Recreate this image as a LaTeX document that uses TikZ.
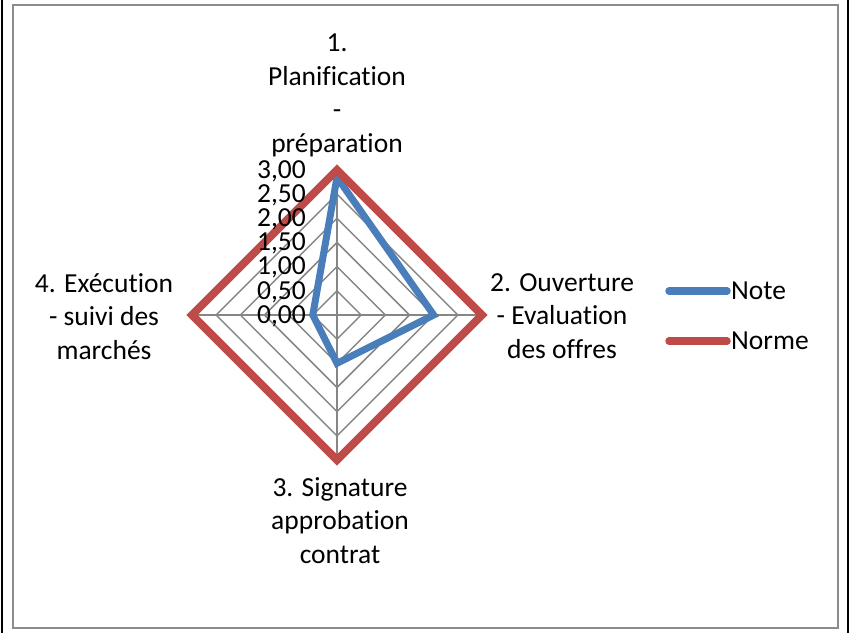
\documentclass[tikz,border=0pt]{standalone}
\usepackage{fontspec}
\setmainfont[Ligatures=NoCommon]{Carlito}
\definecolor{noteblue}{HTML}{4A7EBB}
\definecolor{normered}{HTML}{BE4B48}
\definecolor{gridgray}{HTML}{868686}
\definecolor{framegray}{HTML}{8C8C8C}
\begin{document}
\begin{tikzpicture}[x=1pt,y=-1pt,
  lbl/.style={font=\fontsize{27.5}{33.5}\selectfont, align=center, inner sep=0pt},
  gridline/.style={draw=gridgray, line width=1.5pt},
  noteline/.style={draw=noteblue, line width=7pt},
  normeline/.style={draw=normered, line width=8pt},
  ]
\useasboundingbox (0,0) rectangle (850,633);
\fill[white] (0,0) rectangle (850,633);
% outer frame
\draw[black, line width=2pt] (2,0) -- (2,633);
\draw[black, line width=2pt] (848,0) -- (848,633);
\draw[framegray, line width=1.6pt] (13,5) rectangle (838,628);
% radar grid
\coordinate (O) at (337,315);
\foreach \r in {0.5,1.0,1.5,2.0,2.5,3.0} {
  \pgfmathsetmacro\d{\r*48.333}
  \draw[gridline] (337,{315-\d}) -- ({337+\d},315) -- (337,{315+\d}) -- ({337-\d},315) -- cycle;
}
\draw[gridline] (337,170) -- (337,460);
\draw[gridline] (192,315) -- (482,315);
% series
\coordinate (n1) at (337,177.3);
\coordinate (n2) at (433.7,315);
\coordinate (n3) at (337,363.3);
\coordinate (n4) at (312.8,315);
\draw[noteline] (n1) -- (n2) -- (n3) -- (n4) -- cycle;
\coordinate (m1) at (337,170);
\coordinate (m2) at (482,315);
\coordinate (m3) at (337,460);
\coordinate (m4) at (192,315);
\draw[normeline] (m1) -- (m2) -- (m3) -- (m4) -- cycle;
% tick labels
\foreach \r/\t [count=\i] in {0/{0,00},0.5/{0,50},1/{1,00},1.5/{1,50},2/{2,00},2.5/{2,50},3/{3,00}} {
  \pgfmathsetmacro\yy{315-\r*48.333+8.3}
  \node[lbl, anchor=base east] (tick\i) at (306,\yy) {\t};
}
% category labels
\node[lbl, anchor=north] (cat1) at (337,34) {1.\\Planification\\-\\préparation};
\node[lbl, anchor=north] (cat2) at (562,273) {2. Ouverture\\- Evaluation\\des offres};
\node[lbl, anchor=north] (cat3) at (340,477) {3. Signature\\approbation\\contrat};
\node[lbl, anchor=north] (cat4) at (104,273) {4. Exécution\\- suivi des\\marchés};
% legend
\coordinate (lb1) at (669,291);
\coordinate (lb2) at (727,291);
\draw[noteline, line width=7.5pt, line cap=round] (lb1) -- (lb2);
\node[lbl, anchor=west] (legnote) at (731,291) {Note};
\coordinate (lr1) at (669,341);
\coordinate (lr2) at (727,341);
\draw[normeline, line width=7.5pt, line cap=round] (lr1) -- (lr2);
\node[lbl, anchor=west] (legnorme) at (731,341) {Norme};
\end{tikzpicture}
\end{document}
